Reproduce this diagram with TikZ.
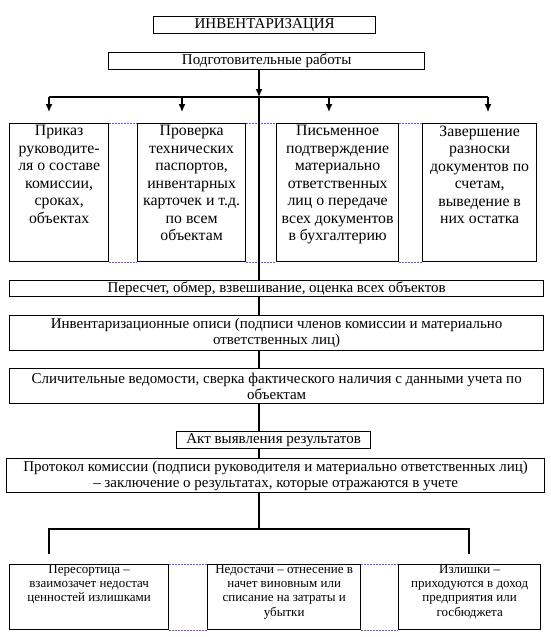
\documentclass[tikz,border=0pt]{standalone}
\usepackage{fontspec}
\setmainfont{Liberation Serif}
\usetikzlibrary{arrows.meta}
\newcommand{\fs}{\fontsize{15}{16}\selectfont}
\newcommand{\fsb}{\fontsize{15.8}{17.5}\selectfont}
\newcommand{\fss}{\fontsize{13}{14.3}\selectfont}
\newcommand{\cell}[4]{\parbox[c][#2pt][t]{#1pt}{\centering\vspace*{#3pt}#4}}
\tikzset{
  box/.style={draw, line width=1.3pt, inner sep=0pt, anchor=north west, align=center, font=\fs},
  arr/.style={-{Latex[length=8pt,width=7pt]}, line width=1.2pt},
  link/.style={line width=1.2pt},
  grid/.style={dash pattern=on 2pt off 1pt, blue!65, line width=0.9pt}
}
\begin{document}
\begin{tikzpicture}[x=1pt, y=-1pt]
    \useasboundingbox (0,0) rectangle (551,637);

    \node[box, minimum width=222pt, minimum height=17pt] (title) at (153,16) {ИНВЕНТАРИЗАЦИЯ};
    \node[box, minimum width=316pt, minimum height=17pt] (prep) at (108,52) {Подготовительные работы};

    \node[box, font=\fsb] (b1) at (9,123) {\cell{99}{138}{2}{Приказ\\руководите-\\ля о составе\\комиссии,\\сроках,\\объектах}};
    \node[box, font=\fsb] (b2) at (137,123) {\cell{108}{138}{2}{Проверка\\технических\\паспортов,\\инвентарных\\карточек и т.д.\\по всем\\объектам}};
    \node[box, font=\fsb] (b3) at (276,123) {\cell{122}{138}{2}{Письменное\\подтверждение\\материально\\ответственных\\лиц о передаче\\всех документов\\в бухгалтерию}};
    \node[box, font=\fsb] (b4) at (422,123) {\cell{114}{138}{2}{Завершение\\разноски\\документов по\\счетам,\\выведение в\\них остатка}};

    \node[box, minimum width=534pt, minimum height=16pt] (recount) at (9,280) {Пересчет, обмер, взвешивание, оценка всех объектов};
    \node[box, minimum width=534pt, minimum height=35pt] (lists) at (9,315) {Инвентаризационные описи (подписи членов комиссии и материально\\ответственных лиц)};
    \node[box, minimum width=534pt, minimum height=35pt] (compare) at (9,368) {Сличительные ведомости, сверка фактического наличия с данными учета по\\объектам};
    \node[box, minimum width=194pt, minimum height=17pt] (act) at (176,431) {Акт выявления результатов};
    \node[box, minimum width=538pt, minimum height=34pt] (protocol) at (6,458) {Протокол комиссии (подписи руководителя и материально ответственных лиц)\\– заключение о результатах, которые отражаются в учете};

    \node[box, font=\fss] (c1) at (9,564) {\cell{159}{65}{0}{Пересортица –\\взаимозачет недостач\\ценностей излишками}};
    \node[box, font=\fss] (c2) at (207,564) {\cell{153}{65}{0}{Недостачи – отнесение в\\начет виновным или\\списание на затраты и\\убытки}};
    \node[box, font=\fss] (c3) at (398,564) {\cell{142}{65}{0}{Излишки –\\приходуются в доход\\предприятия или\\госбюджета}};

    % table grid left over between the boxes
    \draw[grid] (b1.north east) -- (b2.north west) (b2.north east) -- (b3.north west) (b3.north east) -- (b4.north west);
    \draw[grid] (b1.south east) -- (b2.south west) (b2.south east) -- (b3.south west) (b3.south east) -- (b4.south west);
    \draw[grid] (c1.north east) -- (c2.north west) (c2.north east) -- (c3.north west);
    \draw[grid] (c1.south east) -- (c2.south west) (c2.south east) -- (c3.south west);

    \coordinate (split) at (259,97);
    \coordinate (t1) at (49,97);
    \coordinate (t2) at (182,97);
    \coordinate (t3) at (329,97);
    \coordinate (t4) at (488,97);

    \draw[arr] (prep.south -| split) -- (split);
    \draw[link] (t1) -- (t4);
    \foreach \t/\b in {t1/b1, t2/b2, t3/b3, t4/b4}
        \draw[arr, shorten >=11pt] (\t) -- (\t |- \b.north);
    \draw[link] (split) -- (split |- recount.north);
    \draw[link] (recount.south -| split) -- (split |- lists.north);
    \draw[link] (lists.south -| split) -- (split |- compare.north);
    \draw[link] (compare.south -| split) -- (split |- act.north);
    \draw[link] (act.south -| split) -- (split |- protocol.north);

    \coordinate (join) at (259,529);
    \coordinate (s1) at (49,529);
    \coordinate (s3) at (469,529);
    \draw[link] (protocol.south -| join) -- (join);
    \draw[link] (s1 |- c1.north) ++(0,-10) -- (s1) -- (s3) -- ++(0,25);

\end{tikzpicture}
\end{document}
